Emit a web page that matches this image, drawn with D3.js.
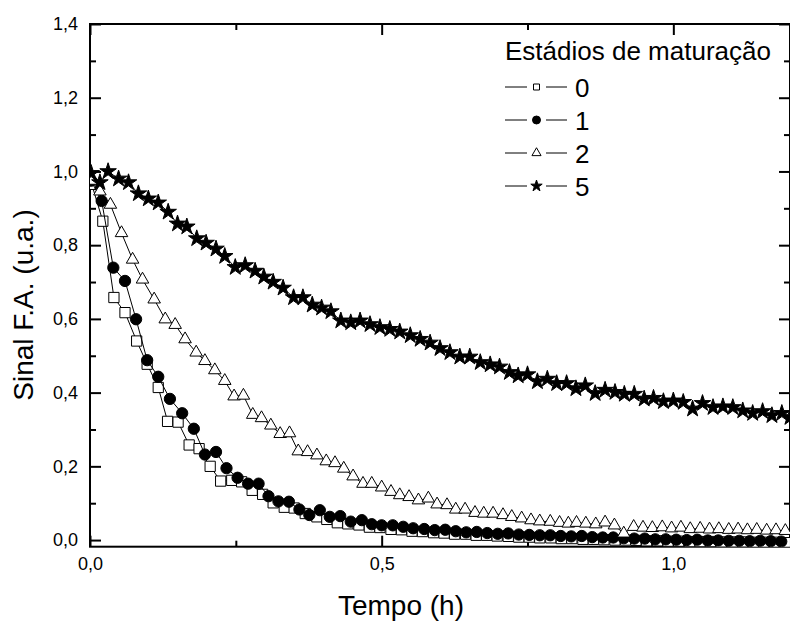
<!DOCTYPE html>
<html>
<head>
<meta charset="utf-8">
<script src="https://cdn.jsdelivr.net/npm/d3@7"></script>
<style>
    body { margin: 0; background: #fff; }
    text { font-family: "Liberation Sans", Arial, sans-serif; fill: #000; }
</style>
</head>
<body>
<div id="graph"></div>
<script>
// Tempo (h) and Sinal F.A. (u.a.), one pair of arrays per estádio
const tempo0 = [0.003, 0.022, 0.041, 0.060, 0.080, 0.098, 0.117, 0.133, 0.151, 0.170, 0.187, 0.206, 0.224, 0.243, 0.260, 0.278, 0.296, 0.314, 0.333, 0.350, 0.369, 0.389, 0.406, 0.424, 0.442, 0.461, 0.479, 0.497, 0.516, 0.534, 0.552, 0.570, 0.589, 0.607, 0.625, 0.644, 0.662, 0.680, 0.698, 0.717, 0.735, 0.753, 0.771, 0.790, 0.808, 0.826, 0.845, 0.863, 0.881, 0.900, 0.918, 0.936, 0.954, 0.973, 0.991, 1.009, 1.028, 1.046, 1.064, 1.082, 1.101, 1.119, 1.137, 1.155, 1.174, 1.192];
const sinal0 = [0.965, 0.865, 0.658, 0.617, 0.540, 0.477, 0.414, 0.322, 0.320, 0.258, 0.248, 0.200, 0.160, 0.162, 0.158, 0.135, 0.124, 0.101, 0.089, 0.087, 0.072, 0.063, 0.056, 0.047, 0.044, 0.041, 0.035, 0.034, 0.029, 0.028, 0.024, 0.023, 0.020, 0.019, 0.016, 0.016, 0.013, 0.013, 0.011, 0.010, 0.008, 0.008, 0.006, 0.006, 0.004, 0.004, 0.002, 0.002, 0.001, 0.000, 0.000, -0.001, -0.002, -0.002, -0.003, -0.003, -0.004, -0.004, -0.004, -0.005, -0.005, -0.005, -0.006, -0.006, -0.006, -0.007];

const tempo1 = [0.002, 0.020, 0.040, 0.060, 0.079, 0.098, 0.117, 0.137, 0.158, 0.178, 0.197, 0.216, 0.234, 0.253, 0.271, 0.289, 0.306, 0.323, 0.341, 0.359, 0.376, 0.394, 0.411, 0.429, 0.447, 0.466, 0.483, 0.500, 0.519, 0.537, 0.554, 0.573, 0.591, 0.609, 0.627, 0.645, 0.663, 0.681, 0.699, 0.717, 0.735, 0.753, 0.771, 0.789, 0.807, 0.825, 0.843, 0.861, 0.879, 0.897, 0.915, 0.933, 0.951, 0.969, 0.987, 1.005, 1.023, 1.041, 1.059, 1.077, 1.095, 1.113, 1.131, 1.149, 1.167, 1.185];
const sinal1 = [0.975, 0.920, 0.739, 0.703, 0.599, 0.488, 0.443, 0.383, 0.344, 0.302, 0.232, 0.239, 0.195, 0.169, 0.153, 0.153, 0.119, 0.105, 0.104, 0.083, 0.068, 0.081, 0.063, 0.065, 0.050, 0.054, 0.043, 0.040, 0.040, 0.036, 0.032, 0.030, 0.027, 0.028, 0.024, 0.021, 0.022, 0.019, 0.017, 0.018, 0.015, 0.014, 0.013, 0.013, 0.011, 0.010, 0.011, 0.008, 0.007, 0.007, 0.005, 0.004, 0.004, 0.002, 0.002, 0.001, 0.000, 0.001, -0.001, -0.001, -0.002, -0.002, -0.003, -0.002, -0.003, -0.004];

const tempo2 = [0.002, 0.017, 0.035, 0.054, 0.073, 0.090, 0.110, 0.129, 0.146, 0.163, 0.182, 0.197, 0.214, 0.231, 0.247, 0.263, 0.279, 0.294, 0.310, 0.326, 0.342, 0.357, 0.373, 0.389, 0.405, 0.420, 0.435, 0.451, 0.468, 0.483, 0.500, 0.516, 0.531, 0.547, 0.563, 0.580, 0.595, 0.612, 0.627, 0.643, 0.660, 0.675, 0.691, 0.708, 0.723, 0.740, 0.756, 0.771, 0.789, 0.805, 0.820, 0.834, 0.850, 0.867, 0.883, 0.899, 0.915, 0.932, 0.948, 0.964, 0.981, 0.997, 1.013, 1.029, 1.046, 1.062, 1.078, 1.095, 1.111, 1.127, 1.143, 1.160, 1.176, 1.192];
const sinal2 = [0.975, 0.946, 0.910, 0.833, 0.761, 0.707, 0.653, 0.599, 0.584, 0.545, 0.509, 0.486, 0.461, 0.432, 0.390, 0.392, 0.340, 0.331, 0.311, 0.288, 0.290, 0.241, 0.239, 0.230, 0.214, 0.209, 0.194, 0.173, 0.153, 0.153, 0.143, 0.131, 0.122, 0.117, 0.108, 0.113, 0.097, 0.095, 0.083, 0.083, 0.074, 0.072, 0.072, 0.068, 0.063, 0.059, 0.054, 0.051, 0.050, 0.047, 0.045, 0.047, 0.045, 0.043, 0.048, 0.040, 0.018, 0.036, 0.034, 0.033, 0.035, 0.032, 0.034, 0.030, 0.031, 0.029, 0.030, 0.028, 0.029, 0.027, 0.028, 0.026, 0.027, 0.025];

const tempo5 = [0.002, 0.017, 0.031, 0.049, 0.066, 0.083, 0.100, 0.117, 0.134, 0.150, 0.166, 0.183, 0.199, 0.216, 0.231, 0.249, 0.266, 0.283, 0.298, 0.314, 0.331, 0.349, 0.365, 0.381, 0.397, 0.413, 0.430, 0.447, 0.463, 0.480, 0.497, 0.514, 0.531, 0.549, 0.566, 0.583, 0.600, 0.617, 0.634, 0.651, 0.669, 0.686, 0.702, 0.719, 0.734, 0.750, 0.767, 0.784, 0.800, 0.817, 0.833, 0.849, 0.866, 0.883, 0.900, 0.916, 0.933, 0.950, 0.966, 0.983, 1.000, 1.017, 1.033, 1.050, 1.068, 1.085, 1.102, 1.119, 1.136, 1.153, 1.169, 1.186, 1.200];
const sinal5 = [0.995, 0.970, 1.000, 0.980, 0.970, 0.940, 0.926, 0.915, 0.890, 0.858, 0.850, 0.818, 0.806, 0.790, 0.770, 0.740, 0.745, 0.730, 0.714, 0.700, 0.684, 0.658, 0.658, 0.638, 0.630, 0.620, 0.595, 0.590, 0.595, 0.585, 0.577, 0.572, 0.565, 0.555, 0.545, 0.535, 0.520, 0.509, 0.497, 0.497, 0.482, 0.476, 0.470, 0.455, 0.446, 0.449, 0.430, 0.437, 0.425, 0.425, 0.411, 0.419, 0.398, 0.407, 0.401, 0.396, 0.396, 0.383, 0.385, 0.376, 0.378, 0.374, 0.356, 0.371, 0.360, 0.362, 0.360, 0.351, 0.344, 0.349, 0.338, 0.344, 0.333];

const estadios = ["0", "1", "2", "5"];
const yTicks = [0.0, 0.2, 0.4, 0.6, 0.8, 1.0, 1.2, 1.4];
const yMinor = [0.1, 0.3, 0.5, 0.7, 0.9, 1.1, 1.3];
const xTicks = [0.0, 0.5, 1.0];
const xMinor = [0.25, 0.75];

// set the dimensions and margins of the graph
const W = 790, H = 621;
const margin = { top: 24, right: 0, bottom: 74.3, left: 90 };
const width = W - margin.left - margin.right,
    height = H - margin.top - margin.bottom;

const svg = d3.select("#graph")
    .append("svg")
    .attr("width", W)
    .attr("height", H)
    .append("g")
    .attr("transform", `translate(${margin.left},${margin.top})`);

const x = d3.scaleLinear().domain([0, 1.2]).range([0, width]);
const y = d3.scaleLinear().domain([-0.018, 1.4]).range([height, 0]);

const virgula = d => d3.format(".1f")(d).replace(".", ",");

// axes with inward ticks on all four sides
const major = 11, minor = 6;
const yAxis = svg.append("g").attr("class", "ax")
    .call(d3.axisLeft(y).tickValues(yTicks).tickSize(-major).tickPadding(12).tickFormat(virgula));
svg.append("g").attr("class", "ax")
    .call(d3.axisLeft(y).tickValues(yMinor).tickSize(-minor).tickFormat(""));
svg.append("g").attr("class", "ax")
    .attr("transform", `translate(${width},0)`)
    .call(d3.axisRight(y).tickValues(yTicks).tickSize(-major).tickFormat(""));
svg.append("g").attr("class", "ax")
    .attr("transform", `translate(${width},0)`)
    .call(d3.axisRight(y).tickValues(yMinor).tickSize(-minor).tickFormat(""));
const xAxis = svg.append("g").attr("class", "ax")
    .attr("transform", `translate(0,${height})`)
    .call(d3.axisBottom(x).tickValues(xTicks).tickSize(-major).tickPadding(11).tickFormat(virgula));
svg.append("g").attr("class", "ax")
    .attr("transform", `translate(0,${height})`)
    .call(d3.axisBottom(x).tickValues(xMinor).tickSize(-minor).tickFormat(""));
svg.append("g").attr("class", "ax")
    .call(d3.axisTop(x).tickValues(xTicks).tickSize(-major).tickFormat(""));
svg.append("g").attr("class", "ax")
    .call(d3.axisTop(x).tickValues(xMinor).tickSize(-minor).tickFormat(""));

svg.selectAll(".ax .domain").remove();
svg.selectAll(".ax line").attr("stroke", "#000").attr("stroke-width", 2);

// tick labels
yAxis.selectAll("text").style("font-size", "18px");
xAxis.selectAll("text").style("font-size", "18px");

// frame
svg.append("rect")
    .attr("width", width)
    .attr("height", height)
    .attr("fill", "none")
    .attr("stroke", "#000")
    .attr("stroke-width", 2);

// clip the data to the plot area
svg.append("clipPath").attr("id", "clip")
    .append("rect").attr("width", width).attr("height", height);

const plot = svg.append("g").attr("clip-path", "url(#clip)");

const series = [
    { t: tempo0, v: sinal0, sym: d3.symbolSquare, size: 105, fill: "#fff" },
    { t: tempo1, v: sinal1, sym: d3.symbolCircle, size: 100, fill: "#000" },
    { t: tempo2, v: sinal2, sym: d3.symbolTriangle, size: 68, fill: "#fff" },
    { t: tempo5, v: sinal5, sym: d3.symbolStar, size: 85, fill: "#000" }
];

const line = d3.line()
    .x(d => x(d[0]))
    .y(d => y(d[1]));

series.forEach(function (s) {
    const pts = s.t.map((t, i) => [t, s.v[i]]);
    plot.append("path")
        .datum(pts)
        .attr("fill", "none")
        .attr("stroke", "#000")
        .attr("stroke-width", 1)
        .attr("d", line);
    plot.selectAll(null)
        .data(pts)
        .enter()
        .append("path")
        .attr("transform", d => `translate(${x(d[0])},${y(d[1])})`)
        .attr("d", d3.symbol().type(s.sym).size(s.size))
        .attr("fill", s.fill)
        .attr("stroke", "#000")
        .attr("stroke-width", 1);
});

// legend
const legend = svg.append("g").attr("transform", `translate(${505 - margin.left},${60 - margin.top})`);
legend.append("text")
    .attr("x", 0)
    .attr("y", 0)
    .style("font-size", "26px")
    .text("Estádios de maturação");

const legendSize = [36, 50, 36, 40];
estadios.forEach(function (e, i) {
    const g = legend.append("g").attr("transform", `translate(0,${27 + i * 33})`);
    g.append("line").attr("x1", 0).attr("x2", 22).attr("stroke", "#000").attr("stroke-width", 1);
    g.append("line").attr("x1", 41).attr("x2", 62).attr("stroke", "#000").attr("stroke-width", 1);
    g.append("path")
        .attr("transform", "translate(31.5,0)")
        .attr("d", d3.symbol().type(series[i].sym).size(legendSize[i]))
        .attr("fill", series[i].fill)
        .attr("stroke", "#000")
        .attr("stroke-width", 1);
    g.append("text")
        .attr("x", 70)
        .attr("y", 9.5)
        .style("font-size", "26px")
        .text(e);
});

// axis titles
svg.append("text")
    .attr("transform", `translate(${33 - margin.left},${305 - margin.top}) rotate(-90)`)
    .attr("text-anchor", "middle")
    .style("font-size", "28px")
    .text("Sinal F.A. (u.a.)");

svg.append("text")
    .attr("x", 401 - margin.left)
    .attr("y", 615 - margin.top)
    .attr("text-anchor", "middle")
    .style("font-size", "28px")
    .text("Tempo (h)");
</script>
</body>
</html>
